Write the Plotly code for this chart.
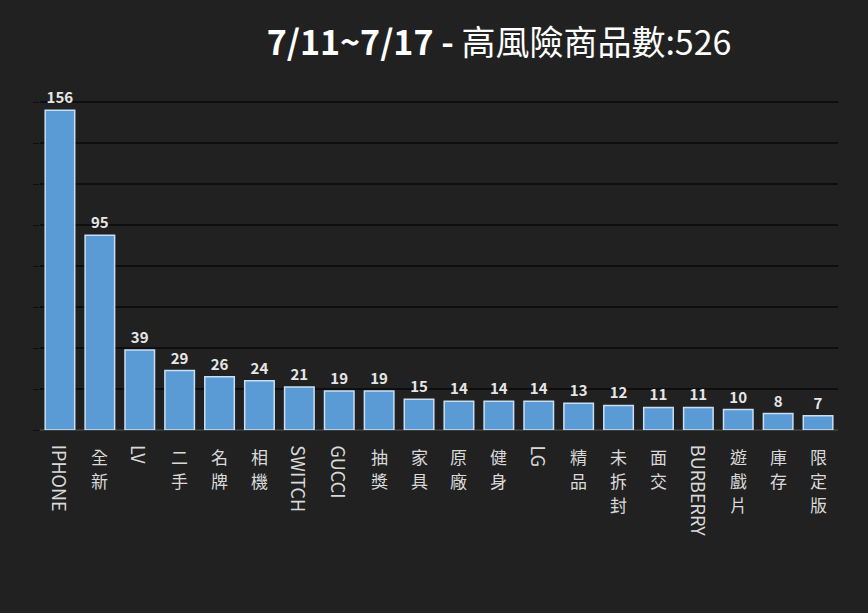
import plotly.graph_objects as go

# ---------------------------------------------------------
# Data
# ---------------------------------------------------------
categories = [
    "IPHONE", "全新", "LV", "二手", "名牌", "相機", "SWITCH", "GUCCI", "抽獎", "家具",
    "原廠", "健身", "LG", "精品", "未拆封", "面交", "BURBERRY", "遊戲片", "庫存", "限定版",
]
counts = [156, 95, 39, 29, 26, 24, 21, 19, 19, 15, 14, 14, 14, 13, 12, 11, 11, 10, 8, 7]
title_bold = "7/11~7/17 -"
title_rest = "高風險商品數:526"

BG = "#212121"
CJK = "Noto Sans CJK TC"

# ---------------------------------------------------------
# Figure
# ---------------------------------------------------------
fig = go.Figure()

fig.add_trace(
    go.Bar(
        x=categories,
        y=counts,
        width=0.74,
        marker=dict(color="#5b9bd5", line=dict(color="#c9def2", width=1.5)),
        text=counts,
        textposition="outside",
        textfont=dict(family=CJK, size=15, color="#e6e6e6", weight="bold"),
        cliponaxis=False,
        showlegend=False,
    )
)

# category labels: latin words rotated, CJK characters stacked one per line
for c in categories:
    if all(ord(ch) < 128 for ch in c):
        fig.add_annotation(
            x=c, xref="x", y=-0.04, yref="paper",
            text=c, textangle=90, showarrow=False,
            xanchor="center", yanchor="top",
            font=dict(family=CJK, size=18, color="#d9d9d9"),
        )
    else:
        for i, ch in enumerate(c):
            fig.add_annotation(
                x=c, xref="x", y=-0.04, yref="paper", yshift=-24 * i,
                text=ch, showarrow=False, borderpad=0,
                xanchor="center", yanchor="top",
                font=dict(family=CJK, size=17, color="#d9d9d9"),
            )

fig.update_layout(
    title=dict(
        text=f"<b>{title_bold}</b> {title_rest}",
        x=0.575,
        xanchor="center",
        y=0.93,
        yanchor="middle",
        font=dict(family=CJK, size=34, color="#ffffff"),
    ),
    xaxis=dict(
        showticklabels=False,
        showgrid=False,
        showline=False,
        zeroline=False,
        categoryorder="array",
        categoryarray=categories,
        range=[-0.5, len(categories) - 0.5],
    ),
    yaxis=dict(
        range=[0, 161],
        dtick=20,
        showticklabels=False,
        ticks="outside",
        ticklen=6,
        tickcolor="#0e0e0e",
        gridcolor="#0e0e0e",
        gridwidth=1.5,
        zeroline=True,
        zerolinecolor="#3c3c3c",
        zerolinewidth=2,
    ),
    plot_bgcolor=BG,
    paper_bgcolor=BG,
    margin=dict(l=40, r=30, t=100, b=183),
    width=868,
    height=613,
)

fig.write_html(
    "out.html",
    config={"displayModeBar": False},
    post_script="document.body.style.margin='0';document.body.style.background='#212121';",
)
